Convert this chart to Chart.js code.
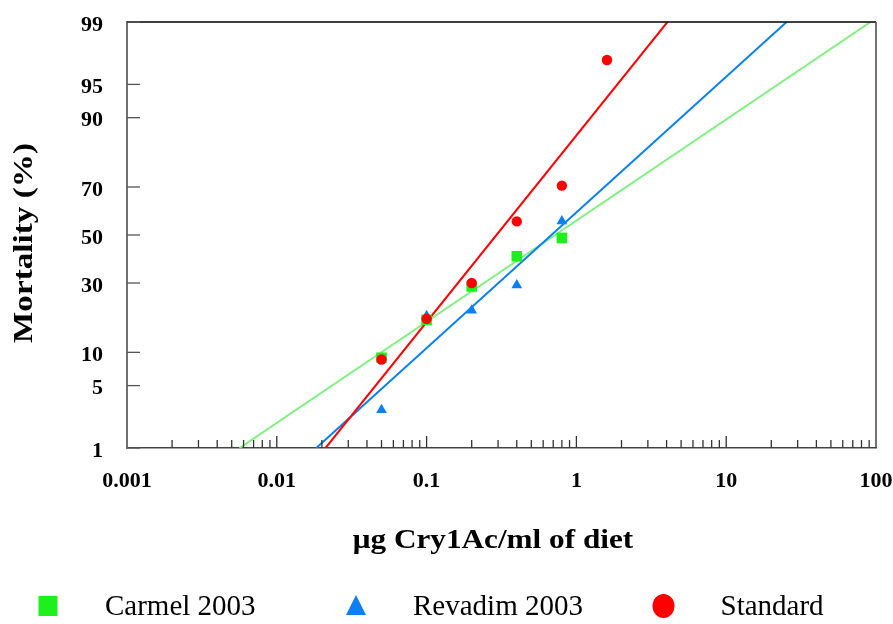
<!DOCTYPE html>
<html>
<head>
<meta charset="utf-8">
<script src="https://cdn.jsdelivr.net/npm/chart.js@4.4.1/dist/chart.umd.min.js"></script>
<style>
  html, body { margin: 0; padding: 0; background: #ffffff; }
  #wrap { position: relative; width: 893px; height: 624px; }
</style>
</head>
<body>
<div id="wrap"><canvas id="c" width="893" height="624"></canvas></div>
<script>
// ---------------- data ----------------
const carmelDoses = [0.05, 0.1, 0.2, 0.4, 0.8];
const carmelMortality = [9.0, 17.7, 28.7, 40.8, 48.7];

const revadimDoses = [0.05, 0.1, 0.2, 0.4, 0.8];
const revadimMortality = [2.8, 18.8, 20.5, 29.2, 56.0];

const standardDoses = [0.05, 0.1, 0.2, 0.4, 0.8, 1.6];
const standardMortality = [8.7, 18.0, 30.0, 55.9, 70.5, 97.2];

// fitted probit lines: dose at the two ends, mortality at the two ends
const fitMortality = [1, 99];
const carmelFitDoses = [0.00564, 92.0];
const revadimFitDoses = [0.01834, 25.3];
const standardFitDoses = [0.02116, 4.05];

const seriesNames = ['Carmel 2003', 'Revadim 2003', 'Standard'];

const yTickValues = [1, 5, 10, 30, 50, 70, 90, 95, 99];
const yTickLabels = ['1', '5', '10', '30', '50', '70', '90', '95', '99'];
const xTickValues = [0.001, 0.01, 0.1, 1, 10, 100];
const xTickLabels = ['0.001', '0.01', '0.1', '1', '10', '100'];

const xTitle = 'μg Cry1Ac/ml of diet';
const yTitle = 'Mortality (%)';

// ---------------- helpers ----------------
function probit(p) {
  const a = [-3.969683028665376e+01, 2.209460984245205e+02, -2.759285104469687e+02, 1.383577518672690e+02, -3.066479806614716e+01, 2.506628277459239e+00];
  const b = [-5.447609879822406e+01, 1.615858368580409e+02, -1.556989798598866e+02, 6.680131188771972e+01, -1.328068155288572e+01];
  const c = [-7.784894002430293e-03, -3.223964580411365e-01, -2.400758277161838e+00, -2.549671324660237e+00, 4.374664141464968e+00, 2.938163982698783e+00];
  const d = [7.784695709041462e-03, 3.224671290700398e-01, 2.445134137142996e+00, 3.754408661907416e+00];
  const pl = 0.02425, ph = 1 - pl;
  let q, r;
  if (p < pl) {
    q = Math.sqrt(-2 * Math.log(p));
    return (((((c[0]*q+c[1])*q+c[2])*q+c[3])*q+c[4])*q+c[5]) / ((((d[0]*q+d[1])*q+d[2])*q+d[3])*q+1);
  }
  if (p <= ph) {
    q = p - 0.5; r = q * q;
    return (((((a[0]*r+a[1])*r+a[2])*r+a[3])*r+a[4])*r+a[5])*q / (((((b[0]*r+b[1])*r+b[2])*r+b[3])*r+b[4])*r+1);
  }
  q = Math.sqrt(-2 * Math.log(1 - p));
  return -(((((c[0]*q+c[1])*q+c[2])*q+c[3])*q+c[4])*q+c[5]) / ((((d[0]*q+d[1])*q+d[2])*q+d[3])*q+1);
}
const pts = (doses, mort) => doses.map((x, i) => ({ x: x, y: probit(mort[i] / 100) }));

const GREEN = '#1ef01e', GREEN_LINE = '#80f080';
const BLUE = '#0a80f5', RED = '#ff0000';
const SERIF = '"Liberation Serif", "Times New Roman", Times, serif';

// ---------------- custom drawing plugin (inside ticks, frame, titles, legend) ----------------
const decor = {
  id: 'decor',
  afterDraw(chart) {
    const ctx = chart.ctx;
    const xs = chart.scales.x, ys = chart.scales.y;
    const ca = chart.chartArea;
    ctx.save();
    // top and right frame
    ctx.lineWidth = 1.5;
    ctx.strokeStyle = '#000000';
    ctx.beginPath(); ctx.moveTo(ca.left, ca.top); ctx.lineTo(ca.right, ca.top); ctx.stroke();
    ctx.strokeStyle = '#444444';
    ctx.beginPath(); ctx.moveTo(ca.right, ca.top); ctx.lineTo(ca.right, ca.bottom); ctx.stroke();
    // x ticks (inside, pointing up)
    ctx.strokeStyle = '#333333';
    ctx.lineWidth = 1.3;
    for (let di = 0; di < xTickValues.length; di++) {
      const dec = xTickValues[di];
      const px = xs.getPixelForValue(dec);
      if (di > 0 && di < xTickValues.length - 1) {
        ctx.beginPath(); ctx.moveTo(px, ca.bottom); ctx.lineTo(px, ca.bottom - 12); ctx.stroke();
      }
      if (di < xTickValues.length - 1) {
        for (let k = 2; k <= 9; k++) {
          const mx = xs.getPixelForValue(dec * k);
          ctx.beginPath(); ctx.moveTo(mx, ca.bottom); ctx.lineTo(mx, ca.bottom - 8); ctx.stroke();
        }
      }
    }
    // y ticks (inside, pointing right)
    ctx.strokeStyle = '#555555';
    for (const v of yTickValues) {
      const py = ys.getPixelForValue(probit(v / 100));
      ctx.beginPath(); ctx.moveTo(ca.left, py); ctx.lineTo(ca.left + 13, py); ctx.stroke();
    }
    // axis titles
    ctx.fillStyle = '#000000';
    ctx.font = 'bold 28px ' + SERIF;
    ctx.textAlign = 'center';
    ctx.textBaseline = 'middle';
    ctx.save();
    ctx.translate(493, 541);
    ctx.scale(1.115, 1);
    ctx.fillText(xTitle, 0, 0);
    ctx.restore();
    ctx.save();
    ctx.translate(25, 243);
    ctx.rotate(-Math.PI / 2);
    ctx.scale(1.185, 1);
    ctx.fillText(yTitle, 0, 0);
    ctx.restore();
    // legend
    const ly = 606;
    const cols = [48, 356, 663.5];
    const colors = [GREEN, BLUE, RED];
    ctx.font = '29px ' + SERIF;
    ctx.textAlign = 'left';
    for (let i = 0; i < 3; i++) {
      const cx = cols[i];
      ctx.fillStyle = colors[i];
      ctx.beginPath();
      if (i === 0) {
        ctx.rect(cx - 9.5, ly - 10, 19, 20);
      } else if (i === 1) {
        ctx.moveTo(cx, ly - 11); ctx.lineTo(cx + 10, ly + 9); ctx.lineTo(cx - 10, ly + 9); ctx.closePath();
      } else {
        ctx.ellipse(cx, ly, 11, 12, 0, 0, Math.PI * 2);
      }
      ctx.fill();
      ctx.fillStyle = '#000000';
      ctx.fillText(seriesNames[i], cx + 57, ly + 1);
    }
    ctx.restore();
  }
};

new Chart(document.getElementById('c'), {
  type: 'scatter',
  data: {
    datasets: [
      { label: seriesNames[2], data: pts(standardDoses, standardMortality), pointStyle: 'circle', pointRadius: 5.2, pointHoverRadius: 5.2, backgroundColor: RED, borderWidth: 0, order: 0 },
      { label: seriesNames[1], data: pts(revadimDoses, revadimMortality), pointStyle: 'triangle', pointRadius: 6.2, pointHoverRadius: 6.2, backgroundColor: BLUE, borderWidth: 0, order: 1 },
      { label: seriesNames[0], data: pts(carmelDoses, carmelMortality), pointStyle: 'rect', pointRadius: 7.5, pointHoverRadius: 7.5, backgroundColor: GREEN, borderWidth: 0, order: 2 },
      { label: 'fit Carmel', data: pts(carmelFitDoses, fitMortality), showLine: true, pointRadius: 0, borderColor: GREEN_LINE, borderWidth: 2, order: 5 },
      { label: 'fit Revadim', data: pts(revadimFitDoses, fitMortality), showLine: true, pointRadius: 0, borderColor: BLUE, borderWidth: 2, order: 4 },
      { label: 'fit Standard', data: pts(standardFitDoses, fitMortality), showLine: true, pointRadius: 0, borderColor: RED, borderWidth: 2, order: 3 }
    ]
  },
  options: {
    responsive: false,
    animation: false,
    events: [],
    layout: { padding: { top: 22, right: 0, left: 0, bottom: 0 } },
    plugins: { legend: { display: false }, tooltip: { enabled: false }, title: { display: false } },
    scales: {
      x: {
        type: 'logarithmic',
        min: 0.001, max: 100,
        afterBuildTicks(scale) { scale.ticks = xTickValues.map(v => ({ value: v, major: true })); },
        afterFit(scale) { scale.height = 176; scale.paddingRight = 17; scale.paddingLeft = 0; },
        grid: { display: false, drawTicks: false },
        border: { display: true, color: '#444444', width: 1.5 },
        ticks: {
          autoSkip: false, maxRotation: 0, minRotation: 0, padding: 20,
          color: '#000000',
          font: { family: SERIF, size: 22, weight: 'bold' },
          callback: (v, i) => xTickLabels[i]
        }
      },
      y: {
        type: 'linear',
        min: probit(yTickValues[0] / 100), max: probit(yTickValues[yTickValues.length - 1] / 100),
        afterBuildTicks(scale) { scale.ticks = yTickValues.map(v => ({ value: probit(v / 100) })); },
        afterFit(scale) { scale.width = 127; scale.paddingTop = 0; scale.paddingBottom = 0; },
        grid: { display: false, drawTicks: false },
        border: { display: true, color: '#707070', width: 2 },
        ticks: {
          autoSkip: false, padding: 24, labelOffset: 3,
          color: '#000000',
          font: { family: SERIF, size: 22, weight: 'bold' },
          callback: (v, i) => yTickLabels[i]
        }
      }
    }
  },
  plugins: [decor]
});
</script>
</body>
</html>
